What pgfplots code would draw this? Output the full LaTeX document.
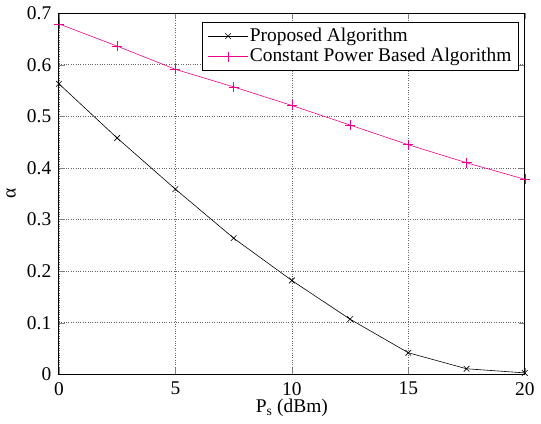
\documentclass[border=0pt]{standalone}
\usepackage{fontspec}
\setmainfont{Liberation Serif}
\usepackage{pgfplots}
\pgfplotsset{compat=1.18}
\begin{document}
\fontsize{19.5}{22}\selectfont
\begin{tikzpicture}
\begin{axis}[
  scale only axis,
  width=468pt, height=363pt,
  xmin=0, xmax=20, ymin=0, ymax=0.7,
  xtick={0,5,...,20},
  ytick={0,0.1,...,0.7},
  /pgf/number format/assume math mode=true,
  tick label style={font=\fontsize{19.5}{22}\selectfont},
  yticklabel style={/pgf/number format/fixed, xshift=-1pt},
  xticklabel style={yshift=-1pt},
  tick align=inside,
  major tick length=6pt,
  axis line style={line width=0.8pt},
  grid=major,
  major grid style={dotted, black!60, line width=0.7pt},
  xlabel={P$_{\mathrm{s}}$ (dBm)},
  ylabel={α},
  xlabel style={yshift=9pt},
  ylabel style={yshift=-2pt},
  label style={font=\fontsize{19.5}{22}\selectfont},
  legend style={at={(0.988,0.975)}, anchor=north east, draw=black, line width=0.8pt,
    font=\fontsize{19.5}{22}\selectfont, inner xsep=6pt, inner ysep=4pt, row sep=1pt,
    nodes={inner sep=1.5pt}},
  legend image code/.code={%
    \draw[mark repeat=2, mark phase=2, #1] plot coordinates {(0pt,0pt) (20pt,0pt) (40pt,0pt)};},
  legend cell align=left,
]
\addplot[black, line width=0.6pt, mark=x, mark size=4pt] coordinates {
  (0,0.563) (2.5,0.458) (5,0.359) (7.5,0.264) (10,0.182)
  (12.5,0.107) (15,0.042) (17.5,0.011) (20,0.003)
};
\addlegendentry{Proposed Algorithm}
\addplot[magenta, line width=0.6pt, mark=+, mark size=5pt] coordinates {
  (0,0.679) (2.5,0.636) (5,0.591) (7.5,0.557) (10,0.521)
  (12.5,0.483) (15,0.445) (17.5,0.410) (20,0.378)
};
\addlegendentry{Constant Power Based Algorithm}
\end{axis}
\end{tikzpicture}
\end{document}
